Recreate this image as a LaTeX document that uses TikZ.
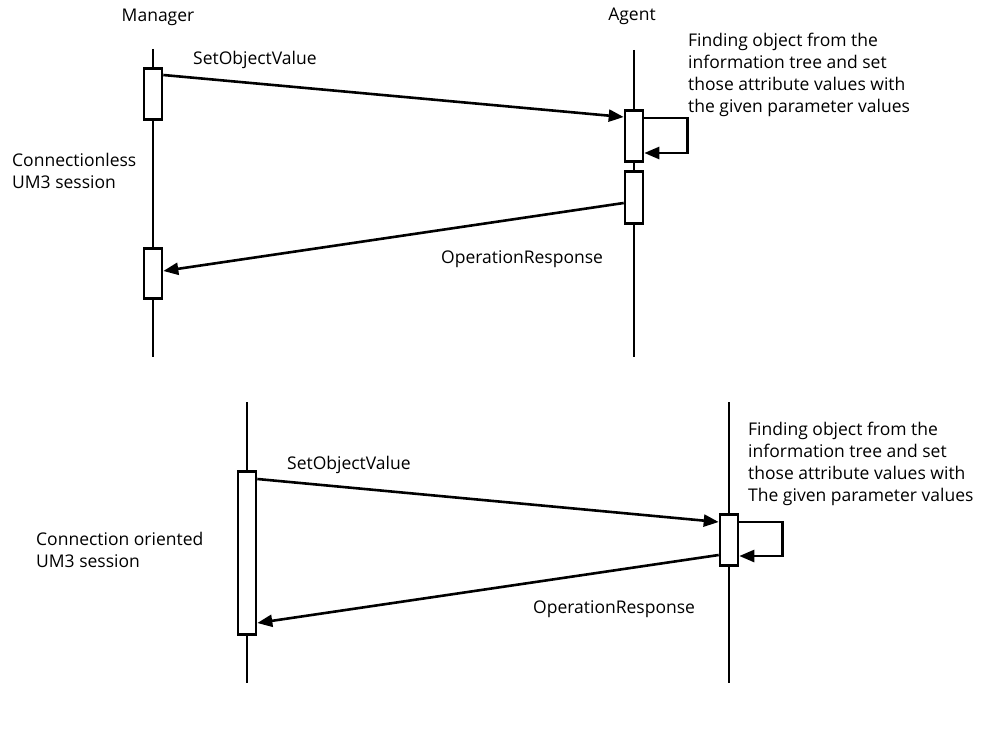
\documentclass[tikz,border=0pt]{standalone}
\usepackage{fontspec}
\setmainfont{Open Sans}
\usetikzlibrary{arrows.meta}
\begin{document}
\begin{tikzpicture}[x=1pt,y=-1pt,
  lifeline/.style={line width=2.9pt},
  actbox/.style={draw,line width=2.6pt,fill=white,rectangle,minimum width=18pt,inner sep=0pt,anchor=north},
  msg/.style={line width=2.6pt,-{Triangle[length=15pt,width=12pt]}},
  txt/.style={font=\fontsize{17.5}{22}\selectfont,inner sep=0pt,align=left},
]
\useasboundingbox (0,0) rectangle (984,751);

% ---------- connectionless session ----------
\node[txt,anchor=base] (mgr) at (158,22) {Manager};
\node[txt,anchor=base] (agt) at (632,21) {Agent};
\coordinate (m1top) at (153,49);
\coordinate (m1bot) at (153,357);
\coordinate (a1top) at (634,50);
\coordinate (a1bot) at (634,357);
\draw[lifeline] (m1top) -- (m1bot);
\draw[lifeline] (a1top) -- (a1bot);

\node[actbox,minimum height=51pt] (mb1) at (153,67) {};
\node[actbox,minimum height=50pt] (mb2) at (153,247) {};
\node[actbox,minimum height=51pt] (ab1) at (634,109) {};
\node[actbox,minimum height=52pt] (ab2) at (634,170) {};

\draw[msg] ([yshift=-8pt]mb1.north east) -- ([yshift=-8pt]ab1.north west);
\draw[msg] ([yshift=-9pt]ab1.north east) -- ++(43,0) |- ([yshift=-44pt]ab1.north east);
\draw[msg] ([yshift=-33pt]ab2.north west) -- ([yshift=-24pt]mb2.north east);

% labels (multi-line nodes are placed by the baseline of their last line)
\node[txt,anchor=base west] (set1) at (193,65) {SetObjectValue};
\node[txt,anchor=base west] (resp1) at (441,263) {OperationResponse};
\node[txt,anchor=base west] (sess1) at (12,189) {Connectionless\\UM3 session};
\node[txt,anchor=base west] (note1) at (688,113) {Finding object from the\\information tree and set\\those attribute values with\\the given parameter values};

% ---------- connection oriented session ----------
\coordinate (m2top) at (247,402);
\coordinate (m2bot) at (247,683);
\coordinate (a2top) at (729,402);
\coordinate (a2bot) at (729,683);
\draw[lifeline] (m2top) -- (m2bot);
\draw[lifeline] (a2top) -- (a2bot);

\node[actbox,minimum height=163pt] (mb3) at (247,470) {};
\node[actbox,minimum height=51pt] (ab3) at (729,513) {};

\draw[msg] ([yshift=-9pt]mb3.north east) -- ([yshift=-9pt]ab3.north west);
\draw[msg] ([yshift=-9pt]ab3.north east) -- ++(43,0) |- ([yshift=-43pt]ab3.north east);
\draw[msg] ([yshift=-42pt]ab3.north west) -- ([yshift=-153pt]mb3.north east);

\node[txt,anchor=base west] (set2) at (287,469) {SetObjectValue};
\node[txt,anchor=base west] (resp2) at (533,613) {OperationResponse};
\node[txt,anchor=base west] (sess2) at (36,567) {Connection oriented\\UM3 session};
\node[txt,anchor=base west] (note2) at (748,501) {Finding object from the\\information tree and set\\those attribute values with\\The given parameter values};
\end{tikzpicture}
\end{document}
